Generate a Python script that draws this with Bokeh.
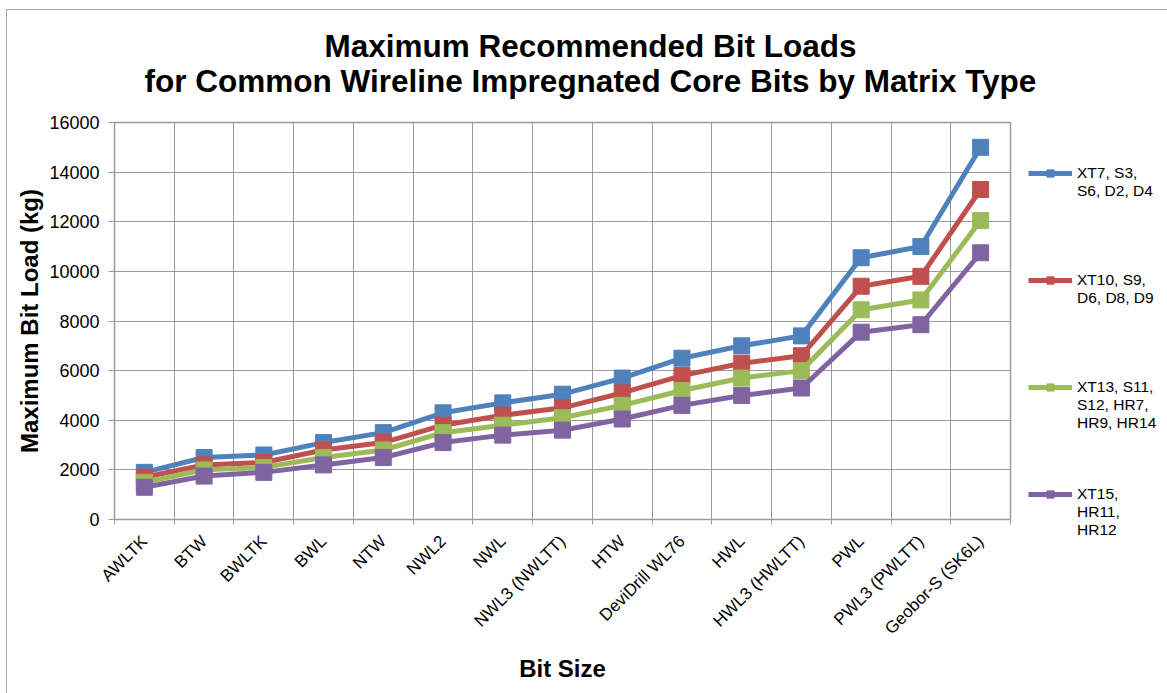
import math
from bokeh.plotting import figure
from bokeh.layouts import column, row
from bokeh.models import (FixedTicker, Legend, LegendItem, Label, ColumnDataSource,
                          CustomJSTickFormatter)
from bokeh.embed import file_html
from bokeh.resources import INLINE

categories = ["AWLTK", "BTW", "BWLTK", "BWL", "NTW", "NWL2", "NWL", "NWL3 (NWLTT)",
              "HTW", "DeviDrill WL76", "HWL", "HWL3 (HWLTT)", "PWL", "PWL3 (PWLTT)",
              "Geobor-S (SK6L)"]
xt7 = [1900, 2500, 2600, 3100, 3500, 4300, 4700, 5050, 5700, 6500, 7000, 7400, 10550, 11000, 15000]
xt10 = [1700, 2200, 2300, 2800, 3100, 3800, 4200, 4500, 5100, 5800, 6300, 6600, 9400, 9800, 13300]
xt13 = [1500, 2000, 2100, 2500, 2800, 3500, 3800, 4100, 4600, 5200, 5700, 6000, 8450, 8850, 12050]
xt15 = [1300, 1750, 1900, 2200, 2500, 3100, 3400, 3600, 4050, 4600, 5000, 5300, 7550, 7850, 10750]
series_lines = [["XT7, S3,", "S6, D2, D4"], ["XT10, S9,", "D6, D8, D9"],
                ["XT13, S11,", "S12, HR7,", "HR9, HR14"], ["XT15,", "HR11,", "HR12"]]
series_values = [xt7, xt10, xt13, xt15]
colors = ["#4F81BD", "#C0504D", "#9BBB59", "#8064A2"]
y_ticks = list(range(0, 16001, 2000))
title_lines = ["Maximum Recommended Bit Loads",
               "for Common Wireline Impregnated Core Bits by Matrix Type"]

FONT = "Liberation Sans"
GRID = "#9a9a9a"
FRAME = "#a6a6a6"
ZW = "\u200b"

# ---------- title strip ----------
TH = 110
pt = figure(width=1167, height=TH, x_range=(0, 1), y_range=(0, 1),
            output_backend="svg", toolbar_location=None, min_border=0)
pt.axis.visible = False
pt.grid.visible = False
pt.outline_line_color = None
pt.background_fill_alpha = 0
pt.border_fill_alpha = 0
for txt, yc in zip(title_lines, [45, 80]):
    pt.add_layout(Label(x=590, y=TH - yc, x_units="screen", y_units="screen", text=txt,
                        text_align="center", text_baseline="middle", text_font=FONT,
                        text_font_size="31.5px", text_font_style="bold",
                        text_color="black"))

# ---------- main chart ----------
MH = 693 - TH
p = figure(width=1012, height=MH, x_range=(0, 15), y_range=(0, 16000),
           output_backend="svg", toolbar_location=None,
           min_border_left=114, min_border_right=2, min_border_top=122 - TH,
           min_border_bottom=MH - (122 - TH) - 397)
p.outline_line_color = GRID
p.outline_line_width = 1.5
p.background_fill_color = "white"
p.border_fill_alpha = 0

xs = [i + 0.5 for i in range(len(categories))]

p.xaxis.ticker = FixedTicker(ticks=xs, minor_ticks=list(range(len(categories) + 1)))
p.xaxis.formatter = CustomJSTickFormatter(args=dict(cats=categories),
                                          code="return cats[Math.floor(tick)] || '';")
p.xaxis.major_label_orientation = math.pi / 4
p.xaxis.major_tick_out = 0
p.xaxis.major_tick_in = 0
p.xaxis.minor_tick_out = 5
p.xaxis.minor_tick_in = 0
p.xaxis.minor_tick_line_color = GRID
p.xaxis.axis_line_color = GRID
p.xaxis.major_label_text_font = FONT
p.xaxis.major_label_text_font_size = "17px"
p.xaxis.major_label_text_color = "black"
p.xaxis.major_label_standoff = 14
p.xaxis.axis_label = "Bit Size"
p.xaxis.axis_label_text_font = FONT
p.xaxis.axis_label_text_font_size = "24px"
p.xaxis.axis_label_text_font_style = "bold"
p.xaxis.axis_label_text_color = "black"
p.xaxis.axis_label_standoff = 7

p.yaxis.ticker = FixedTicker(ticks=y_ticks)
p.yaxis.major_tick_out = 6
p.yaxis.major_tick_in = 0
p.yaxis.minor_tick_out = 0
p.yaxis.minor_tick_in = 0
p.yaxis.major_tick_line_color = GRID
p.yaxis.axis_line_color = GRID
p.yaxis.major_label_text_font = FONT
p.yaxis.major_label_text_font_size = "18px"
p.yaxis.major_label_text_color = "black"
p.yaxis.major_label_standoff = 9
p.yaxis.axis_label = "Maximum Bit Load (kg)"
p.yaxis.axis_label_text_font = FONT
p.yaxis.axis_label_text_font_size = "24px"
p.yaxis.axis_label_text_font_style = "bold"
p.yaxis.axis_label_text_color = "black"
p.yaxis.axis_label_standoff = 3

p.xgrid.ticker = FixedTicker(ticks=list(range(len(categories) + 1)))
p.ygrid.ticker = FixedTicker(ticks=y_ticks)
p.xgrid.grid_line_color = GRID
p.ygrid.grid_line_color = GRID

sources = []
for vals, color in zip(series_values, colors):
    src = ColumnDataSource(dict(x=xs, y=vals))
    sources.append(src)
    p.line("x", "y", source=src, line_width=5, line_color=color, line_join="round")
    p.scatter("x", "y", source=src, marker="square", size=16, fill_color=color,
              line_color=color)

# ---------- legend strip (series drawn off-view; only legend visible) ----------
pl = figure(width=155, height=MH, x_range=(-2, -1), y_range=(-2, -1),
            output_backend="svg", toolbar_location=None, min_border=0)
pl.axis.visible = False
pl.grid.visible = False
pl.outline_line_color = None
pl.background_fill_alpha = 0
pl.border_fill_alpha = 0
items = []
for lines, color, src in zip(series_lines, colors, sources):
    padded = [ZW, ZW] + lines + [ZW] * (3 - len(lines))
    r1 = pl.line("x", "y", source=src, line_width=5, line_color=color)
    r2 = pl.scatter("x", "y", source=src, marker="square", size=16, fill_color=color,
                    line_color=color)
    items.append(LegendItem(label="\n".join(padded), renderers=[r1, r2]))

LINE_H = 18
item_h = 5 * LINE_H
spacing = 107 - item_h
legend_bottom_page = 539
legend = Legend(items=items, location=(16, 693 - legend_bottom_page), orientation="vertical",
                glyph_width=44, glyph_height=18, label_standoff=5, spacing=int(spacing),
                padding=0, margin=0, border_line_color=None, background_fill_alpha=0,
                label_text_font=FONT, label_text_font_size="15.5px",
                label_text_color="black")
pl.add_layout(legend, "center")

bg = ("linear-gradient({c},{c}) 6px 9px / 1px calc(100% - 9px) no-repeat, "
      "linear-gradient({c},{c}) 6px 9px / calc(100% - 6px) 1px no-repeat, white").format(c=FRAME)
layout = column(pt, row(p, column(pl)), styles={"background": bg})
open("out.html", "w").write(file_html(layout, INLINE))
